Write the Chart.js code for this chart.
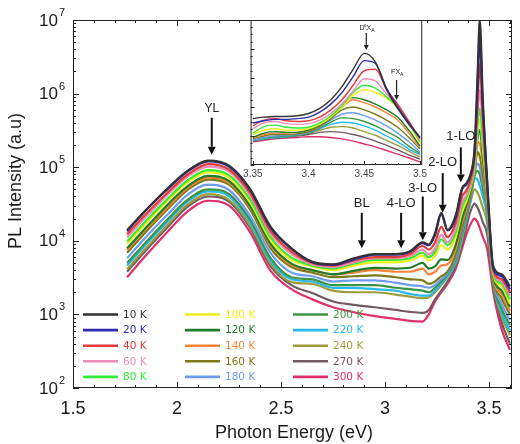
<!DOCTYPE html>
<html>
<head>
<meta charset="utf-8">
<script src="https://cdn.jsdelivr.net/npm/chart.js@4.4.1/dist/chart.umd.min.js"></script>
<style>
  html, body { margin: 0; padding: 0; background: #fff; }
  #wrap { position: relative; width: 520px; height: 444px; }
  #main { position: absolute; left: 0; top: 0; }
  #inset { position: absolute; left: 240px; top: 14px; }
</style>
</head>
<body>
<div id="wrap">
  <canvas id="main" width="520" height="444"></canvas>
  <canvas id="inset" width="190" height="170"></canvas>
</div>
<script>
// temperatures and line colours
const temps = ['10 K', '20 K', '40 K', '60 K', '80 K', '100 K', '120 K', '140 K', '160 K', '180 K',
               '200 K', '220 K', '240 K', '270 K', '300 K'];
const colors = ['#333333', '#2b2bb0', '#e23b3b', '#f08cb8', '#34ea34', '#eeee1c', '#1f7a2a', '#f5843a',
                '#7a7a1a', '#6e9cf0', '#3a9444', '#2ab8f0', '#9c9c3c', '#725a62', '#e0306a'];

// main spectra, photon energy (eV)
const energy = [1.76, 1.85, 1.95, 2.05, 2.15, 2.25, 2.35, 2.45, 2.55, 2.65, 2.75, 2.85, 2.95, 3.05, 3.12,
                3.18, 3.21, 3.24, 3.27, 3.30, 3.34, 3.37, 3.39, 3.41, 3.43, 3.445, 3.455, 3.47, 3.49, 3.52, 3.56, 3.60];

const pl10  = [1.4e4, 2.6e4, 5.0e4, 8.9e4, 1.23e5, 1.05e5, 5.1e4, 1.55e4, 7.9e3, 5.2e3, 4.8e3, 5.8e3, 6.6e3, 6.6e3, 7.2e3,
               9.5e3, 8.9e3, 1.26e4, 2.4e4, 1.41e4, 2.24e4, 5.2e4, 6.0e4, 7.9e4, 1.8e5, 2.0e6, 1.0e7, 7.9e5, 7.1e4, 4.5e3, 3.5e3, 2.4e3];
const pl20  = [1.35e4, 2.6e4, 4.9e4, 8.7e4, 1.2e5, 1.02e5, 5.0e4, 1.5e4, 7.8e3, 5.1e3, 4.7e3, 5.6e3, 6.5e3, 6.5e3, 7.1e3,
               9.3e3, 8.7e3, 1.2e4, 2.3e4, 1.38e4, 2.1e4, 5.0e4, 5.8e4, 7.6e4, 1.6e5, 1.26e6, 5.6e6, 6.3e5, 6.3e4, 4.2e3, 3.3e3, 2.2e3];
const pl40  = [1.23e4, 2.3e4, 4.4e4, 7.9e4, 1.1e5, 9.3e4, 4.5e4, 1.35e4, 7.1e3, 5.0e3, 4.6e3, 5.4e3, 6.0e3, 6.0e3, 6.6e3,
               8.5e3, 7.6e3, 9.5e3, 1.55e4, 1.12e4, 1.78e4, 4.0e4, 4.8e4, 6.6e4, 1.4e5, 7.9e5, 2.5e6, 4.5e5, 5.6e4, 4.0e3, 3.0e3, 2.0e3];
const pl60  = [1.12e4, 2.1e4, 4.1e4, 7.4e4, 1.02e5, 8.7e4, 4.2e4, 1.26e4, 6.6e3, 4.8e3, 4.4e3, 5.1e3, 5.8e3, 5.8e3, 6.2e3,
               7.6e3, 6.6e3, 7.9e3, 1.2e4, 9.5e3, 1.5e4, 3.3e4, 4.2e4, 6.0e4, 1.26e5, 5.6e5, 1.12e6, 3.2e5, 5.2e4, 3.8e3, 2.8e3, 1.8e3];
const pl80  = [9.8e3, 1.86e4, 3.6e4, 6.6e4, 9.1e4, 7.8e4, 3.7e4, 1.12e4, 5.9e3, 4.6e3, 4.2e3, 4.9e3, 5.5e3, 5.5e3, 5.8e3,
               6.9e3, 6.0e3, 7.1e3, 1.05e4, 8.7e3, 1.32e4, 2.9e4, 3.8e4, 5.6e4, 1.12e5, 4.0e5, 6.3e5, 2.2e5, 4.8e4, 3.6e3, 2.6e3, 1.6e3];
const pl100 = [9.1e3, 1.72e4, 3.4e4, 6.2e4, 8.5e4, 7.2e4, 3.4e4, 1.02e4, 5.5e3, 4.5e3, 4.0e3, 4.6e3, 5.1e3, 5.1e3, 5.4e3,
               6.3e3, 5.4e3, 6.2e3, 8.7e3, 7.6e3, 1.15e4, 2.5e4, 3.4e4, 5.2e4, 1.0e5, 3.2e5, 4.5e5, 1.8e5, 4.5e4, 3.5e3, 2.4e3, 1.4e3];
const pl120 = [7.9e3, 1.5e4, 3.0e4, 5.5e4, 7.6e4, 6.5e4, 3.0e4, 9.1e3, 4.9e3, 4.0e3, 3.5e3, 3.9e3, 4.3e3, 4.2e3, 4.3e3,
               5.0e3, 4.2e3, 4.5e3, 5.6e3, 5.5e3, 8.9e3, 2.0e4, 3.0e4, 4.8e4, 9.5e4, 2.6e5, 3.2e5, 1.4e5, 4.0e4, 3.4e3, 2.1e3, 1.26e3];
const pl140 = [7.5e3, 1.43e4, 2.8e4, 5.2e4, 7.2e4, 6.2e4, 2.9e4, 8.7e3, 4.7e3, 4.0e3, 3.5e3, 3.7e3, 4.0e3, 3.8e3, 3.8e3,
               4.2e3, 3.5e3, 3.8e3, 4.6e3, 4.8e3, 7.9e3, 1.78e4, 2.7e4, 4.6e4, 9.3e4, 2.2e5, 2.1e5, 1.12e5, 3.5e4, 3.2e3, 1.9e3, 1.12e3];
const pl160 = [6.9e3, 1.32e4, 2.6e4, 4.9e4, 6.8e4, 5.8e4, 2.7e4, 7.9e3, 4.4e3, 3.7e3, 3.2e3, 3.3e3, 3.4e3, 3.2e3, 3.0e3,
               2.9e3, 2.6e3, 2.8e3, 3.3e3, 3.8e3, 6.6e3, 1.5e4, 2.4e4, 4.2e4, 8.9e4, 1.6e5, 1.4e5, 7.9e4, 3.2e4, 3.2e3, 1.66e3, 1.0e3];
const pl180 = [5.8e3, 1.12e4, 2.2e4, 4.2e4, 5.8e4, 4.9e4, 2.2e4, 6.8e3, 3.7e3, 3.3e3, 2.8e3, 2.9e3, 2.9e3, 2.7e3, 2.5e3,
               2.4e3, 2.3e3, 2.5e3, 3.0e3, 3.6e3, 6.0e3, 1.38e4, 2.2e4, 4.0e4, 8.3e4, 1.12e5, 1.0e5, 6.3e4, 2.8e4, 3.0e3, 1.4e3, 830];
const pl200 = [5.0e3, 9.5e3, 1.9e4, 3.6e4, 5.0e4, 4.3e4, 1.95e4, 5.8e3, 3.2e3, 3.0e3, 2.5e3, 2.5e3, 2.5e3, 2.3e3, 2.2e3,
               2.1e3, 2.0e3, 2.3e3, 2.8e3, 3.5e3, 5.6e3, 1.26e4, 2.1e4, 3.8e4, 7.6e4, 8.9e4, 7.9e4, 5.0e4, 2.5e4, 2.8e3, 1.2e3, 710];
const pl220 = [4.6e3, 8.9e3, 1.78e4, 3.4e4, 4.7e4, 4.0e4, 1.8e4, 5.4e3, 3.0e3, 2.8e3, 2.3e3, 2.3e3, 2.2e3, 2.1e3, 1.9e3,
               1.8e3, 1.8e3, 2.1e3, 2.6e3, 3.3e3, 5.2e3, 1.15e4, 2.0e4, 3.5e4, 7.1e4, 6.8e4, 5.6e4, 4.0e4, 2.2e4, 2.8e3, 1.05e3, 600];
const pl240 = [4.1e3, 7.9e3, 1.6e4, 3.1e4, 4.3e4, 3.6e4, 1.65e4, 4.9e3, 2.75e3, 2.6e3, 2.1e3, 2.0e3, 2.0e3, 1.86e3, 1.74e3,
               1.66e3, 1.7e3, 2.0e3, 2.5e3, 3.2e3, 5.0e3, 1.05e4, 1.86e4, 3.3e4, 5.0e4, 4.5e4, 3.8e4, 2.8e4, 1.78e4, 2.6e3, 950, 520];
const pl270 = [3.8e3, 7.4e3, 1.48e4, 2.9e4, 4.0e4, 3.4e4, 1.52e4, 4.5e3, 2.5e3, 1.95e3, 1.5e3, 1.35e3, 1.25e3, 1.15e3, 1.08e3,
               1.05e3, 1.15e3, 1.6e3, 2.1e3, 2.8e3, 4.5e3, 8.9e3, 1.5e4, 2.5e4, 3.2e4, 2.8e4, 2.4e4, 1.78e4, 1.26e4, 2.4e3, 790, 400];
const pl300 = [3.2e3, 6.3e3, 1.29e4, 2.5e4, 3.5e4, 3.0e4, 1.32e4, 3.9e3, 2.2e3, 1.6e3, 1.25e3, 1.07e3, 950, 870, 815,
               800, 1.0e3, 1.5e3, 2.0e3, 2.6e3, 4.2e3, 7.9e3, 1.2e4, 1.66e4, 2.0e4, 1.78e4, 1.5e4, 1.12e4, 7.9e3, 2.0e3, 630, 330];
const mainSeries = [pl10, pl20, pl40, pl60, pl80, pl100, pl120, pl140, pl160, pl180, pl200, pl220, pl240, pl270, pl300];

// inset: zoom on the band edge (linear, arb. units)
const insetE = [3.35, 3.36, 3.37, 3.38, 3.39, 3.40, 3.41, 3.42, 3.43, 3.44, 3.45, 3.46, 3.47, 3.48, 3.49, 3.50];
const in10  = [32, 33, 33.5, 33.5, 34, 35.5, 39, 45, 54, 66, 77, 71, 52, 39, 28, 19];
const in20  = [29, 30.5, 31.5, 31.5, 32, 33, 36.5, 42, 50, 61, 72, 70, 53, 40, 29, 19];
const in40  = [27, 31, 32, 30.5, 30, 30.5, 33, 38, 45, 55, 65, 66, 52, 42, 30, 18];
const in60  = [25, 29, 30, 28.5, 28, 28.5, 31, 35.5, 42, 51, 59.5, 58, 49, 41, 30, 17];
const in80  = [22, 26.5, 27.5, 26, 25.5, 26, 29, 34, 41, 50, 55, 53, 47, 40, 29, 16];
const in100 = [21, 24, 25, 24, 24, 25, 28, 33, 40, 48, 52, 50, 46, 39, 28, 15];
const in120 = [19, 22, 23, 22.5, 22.5, 24, 27.5, 33, 41, 46.5, 45, 42, 38, 33, 24, 13];
const in140 = [19, 21, 22, 22, 22.5, 24, 27.5, 33, 40, 45, 43, 40, 36, 31, 22, 12];
const in160 = [18, 20, 21, 21, 21.5, 23, 26.5, 32, 38, 40, 38, 35, 31, 26, 19, 11];
const in180 = [17, 19, 20, 20.5, 21, 22.5, 26, 31, 35, 36, 34, 31, 27, 22, 16, 9];
const in200 = [17, 18.5, 19.5, 20, 20.5, 22, 25.5, 29.5, 32.5, 32, 30, 27, 23, 19, 13, 8];
const in220 = [17, 18, 19, 19.5, 20.5, 22, 25, 28, 29.5, 29, 27, 24, 20, 16, 11, 7];
const in240 = [17, 18, 19, 19.5, 20.5, 22, 24, 26, 26.5, 25.5, 23, 20.5, 17, 13.5, 9.5, 5.5];
const in270 = [16.5, 17.5, 18.5, 19, 20, 21, 22.5, 23, 22.5, 21, 19, 16.5, 13.5, 10.5, 7, 4];
const in300 = [16, 17, 18, 18.5, 19, 19.5, 19.5, 19, 18, 16.5, 14.5, 12.5, 10, 7.5, 5, 2];
const insetSeries = [in10, in20, in40, in60, in80, in100, in120, in140, in160, in180, in200, in220, in240, in270, in300];

// tick labels
const xTicks = [1.5, 2, 2.5, 3, 3.5];
const yExponents = [2, 3, 4, 5, 6, 7];
const insetTicks = [3.35, 3.4, 3.45, 3.5];

// peak markers (energy, label / arrow start / arrow tip intensity)
const annLabels = ['YL', 'BL', '4-LO', '3-LO', '2-LO', '1-LO'];
const annEnergy = [2.167, 2.888, 3.077, 3.181, 3.277, 3.364];
const annText   = [6.3e5, 3.2e4, 3.2e4, 5.2e4, 1.17e5, 2.6e5];
const annFrom   = [4.7e5, 2.4e4, 2.4e4, 4.0e4, 8.3e4, 1.86e5];
const annTo     = [1.48e5, 7.9e3, 7.9e3, 1.02e4, 2.4e4, 6.2e4];

const insetLabels = [['D\u2070X', 'A'], ['FX', 'A']];
const insetAnnE    = [3.4518, 3.479];
const insetAnnText = [94.5, 64];
const insetAnnFrom = [91, 58.6];
const insetAnnTo   = [79.3, 44.8];

const FONT = "'Liberation Sans', Arial, sans-serif";

function arrow(ctx, x, y0, y1, head) {
  ctx.beginPath();
  ctx.moveTo(x, y0);
  ctx.lineTo(x, y1 - head);
  ctx.stroke();
  ctx.beginPath();
  ctx.moveTo(x - head * 0.5, y1 - head);
  ctx.lineTo(x + head * 0.5, y1 - head);
  ctx.lineTo(x, y1);
  ctx.closePath();
  ctx.fill();
}

const mainDecor = {
  id: 'mainDecor',
  afterDatasetsDraw(chart) {
    const { ctx, scales: { x, y } } = chart;
    ctx.save();
    // annotations
    ctx.strokeStyle = '#111';
    ctx.lineWidth = 2;
    ctx.textAlign = 'center';
    ctx.textBaseline = 'middle';
    annLabels.forEach((lab, i) => {
      const px = x.getPixelForValue(annEnergy[i]);
      ctx.font = (i === 0 ? '12px ' : '13px ') + FONT;
      ctx.fillStyle = '#222';
      ctx.fillText(lab, px, y.getPixelForValue(annText[i]));
      ctx.fillStyle = '#111';
      arrow(ctx, px, y.getPixelForValue(annFrom[i]), y.getPixelForValue(annTo[i]), 8);
    });
    // legend, 3 columns x 5 rows
    const colX = [83, 185, 293];
    ctx.font = "10.5px 'DejaVu Sans', sans-serif";
    ctx.textAlign = 'left';
    chart.data.datasets.forEach((ds, i) => {
      const cx = colX[Math.floor(i / 5)];
      const cy = 314.5 + (i % 5) * 15.6;
      ctx.strokeStyle = ds.borderColor;
      ctx.lineWidth = 2.6;
      ctx.beginPath();
      ctx.moveTo(cx, cy);
      ctx.lineTo(cx + 35, cy);
      ctx.stroke();
      ctx.fillStyle = ds.borderColor;
      ctx.fillText(ds.label, cx + 40, cy + 0.5);
    });
    ctx.restore();
  },
  afterDraw(chart) {
    const { ctx, chartArea: a, scales: { x, y } } = chart;
    ctx.save();
    ctx.strokeStyle = '#222';
    ctx.lineWidth = 1;
    ctx.strokeRect(a.left + 0.5, a.top + 0.5, a.right - a.left - 1, a.bottom - a.top - 1);
    ctx.beginPath();
    // x ticks, inward, bottom and top
    for (let k = 15; k <= 36; k++) {
      const px = Math.round(x.getPixelForValue(k / 10)) + 0.5;
      const len = k % 5 === 0 ? 6 : 3;
      ctx.moveTo(px, a.bottom); ctx.lineTo(px, a.bottom - len);
      ctx.moveTo(px, a.top); ctx.lineTo(px, a.top + len);
    }
    // y ticks, log minors
    for (let e = 2; e <= 6; e++) {
      for (let m = 1; m <= 9; m++) {
        const py = Math.round(y.getPixelForValue(m * Math.pow(10, e))) + 0.5;
        const len = m === 1 ? 6 : 3;
        ctx.moveTo(a.left, py); ctx.lineTo(a.left + len, py);
        ctx.moveTo(a.right, py); ctx.lineTo(a.right - len, py);
      }
    }
    ctx.stroke();
    // y labels 10^n
    ctx.fillStyle = '#1a1a1a';
    ctx.textBaseline = 'middle';
    yExponents.forEach(e => {
      const py = y.getPixelForValue(Math.pow(10, e));
      ctx.font = '17px ' + FONT;
      ctx.textAlign = 'right';
      ctx.fillText('10', a.left - 15, py + 1);
      ctx.font = '11px ' + FONT;
      ctx.textAlign = 'left';
      ctx.fillText(String(e), a.left - 14, py - 7);
    });
    // axis titles
    ctx.font = '18px ' + FONT;
    ctx.textAlign = 'center';
    ctx.fillText('Photon Energy (eV)', 294, 433);
    ctx.translate(16, 181);
    ctx.rotate(-Math.PI / 2);
    ctx.fillText('PL Intensity (a.u)', 0, 0);
    ctx.restore();
  }
};

new Chart(document.getElementById('main'), {
  type: 'line',
  data: {
    datasets: temps.map((t, i) => ({
      label: t,
      data: energy.map((e, j) => ({ x: e, y: mainSeries[i][j] })),
      borderColor: colors[i],
      borderWidth: 2.2
    }))
  },
  options: {
    responsive: false,
    devicePixelRatio: 1,
    animation: false,
    layout: { padding: { left: 0, right: 8, top: 20, bottom: 0 } },
    plugins: { legend: { display: false }, tooltip: { enabled: false } },
    elements: { point: { radius: 0 }, line: { cubicInterpolationMode: 'monotone' } },
    scales: {
      x: {
        type: 'linear', min: 1.5, max: 3.61,
        grid: { display: false, drawTicks: false }, border: { display: false },
        afterBuildTicks: s => { s.ticks = xTicks.map(v => ({ value: v })); },
        afterFit: s => { s.height = 56; },
        ticks: { font: { family: FONT, size: 18 }, color: '#1a1a1a', padding: 10, maxRotation: 0, callback: v => String(v) }
      },
      y: {
        type: 'logarithmic', min: 100, max: 1e7,
        grid: { display: false, drawTicks: false }, border: { display: false },
        ticks: { display: false },
        afterFit: s => { s.width = 73; }
      }
    }
  },
  plugins: [mainDecor]
});

const insetDecor = {
  id: 'insetDecor',
  beforeDraw(chart) {
    const { ctx, chartArea: a } = chart;
    ctx.save();
    ctx.fillStyle = '#fff';
    ctx.fillRect(a.left, a.top, a.right - a.left, a.bottom - a.top);
    ctx.restore();
  },
  afterDraw(chart) {
    const { ctx, chartArea: a, scales: { x, y } } = chart;
    ctx.save();
    ctx.strokeStyle = '#222';
    ctx.lineWidth = 1;
    ctx.strokeRect(a.left + 0.5, a.top + 0.5, a.right - a.left - 1, a.bottom - a.top - 1);
    ctx.beginPath();
    for (let k = 335; k <= 350; k++) {
      const px = Math.round(x.getPixelForValue(k / 100)) + 0.5;
      const len = k % 5 === 0 ? 4 : 2;
      ctx.moveTo(px, a.bottom); ctx.lineTo(px, a.bottom - len);
    }
    for (let v = 0; v <= 100; v += 5) {
      const py = Math.round(y.getPixelForValue(v)) + 0.5;
      const len = v % 20 === 0 ? 4 : 2;
      ctx.moveTo(a.left, py); ctx.lineTo(a.left + len, py);
    }
    ctx.stroke();
    ctx.fillStyle = '#222';
    ctx.strokeStyle = '#222';
    insetLabels.forEach((lab, i) => {
      const px = x.getPixelForValue(insetAnnE[i]);
      const py = y.getPixelForValue(insetAnnText[i]);
      ctx.font = '7px ' + FONT;
      ctx.textBaseline = 'middle';
      ctx.textAlign = 'left';
      const w = ctx.measureText(lab[0]).width;
      ctx.fillText(lab[0], px - w / 2 - 1, py);
      ctx.font = '5px ' + FONT;
      ctx.fillText(lab[1], px + w / 2 - 1, py + 2.5);
      ctx.lineWidth = 1.2;
      arrow(ctx, px, y.getPixelForValue(insetAnnFrom[i]), y.getPixelForValue(insetAnnTo[i]), 5);
    });
    ctx.restore();
  }
};

new Chart(document.getElementById('inset'), {
  type: 'line',
  data: {
    datasets: temps.map((t, i) => ({
      label: t,
      data: insetE.map((e, j) => ({ x: e, y: insetSeries[i][j] })),
      borderColor: colors[i],
      borderWidth: 1.4
    }))
  },
  options: {
    responsive: false,
    devicePixelRatio: 1,
    animation: false,
    layout: { padding: { left: 0, right: 5, top: 6, bottom: 0 } },
    plugins: { legend: { display: false }, tooltip: { enabled: false } },
    elements: { point: { radius: 0 }, line: { cubicInterpolationMode: 'monotone' } },
    scales: {
      x: {
        type: 'linear', min: 3.348, max: 3.502,
        grid: { display: false, drawTicks: false }, border: { display: false },
        afterBuildTicks: s => { s.ticks = insetTicks.map(v => ({ value: v })); },
        afterFit: s => { s.height = 19; },
        ticks: { font: { family: FONT, size: 10 }, color: '#444', padding: 3, maxRotation: 0, callback: v => String(v) }
      },
      y: {
        type: 'linear', min: 0, max: 100,
        grid: { display: false, drawTicks: false }, border: { display: false },
        ticks: { display: false },
        afterFit: s => { s.width = 10; }
      }
    }
  },
  plugins: [insetDecor]
});
</script>
</body>
</html>
